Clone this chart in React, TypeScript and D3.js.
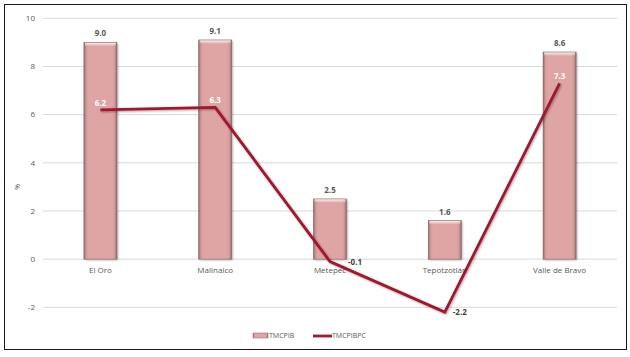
import React from "react";
import * as d3 from "d3";

const categories = ["El Oro", "Malinalco", "Metepec", "Tepotzotlán", "Valle de Bravo"];
const tmcpib = [9.0, 9.1, 2.5, 1.6, 8.6];
const tmcpibpc = [6.2, 6.3, -0.1, -2.2, 7.3];
const yTicks = [-2, 0, 2, 4, 6, 8, 10];
const seriesNames = ["TMCPIB", "TMCPIBPC"];

const W = 630, H = 357;
const left = 43, right = 617, top = 18.3, bottom = 307.3;
const font = "'Open Sans', 'Liberation Sans', Arial, sans-serif";

export default function App() {
  const x = d3.scaleBand<string>().domain(categories).range([left, right]).paddingInner(0).paddingOuter(0);
  const y = d3.scaleLinear().domain([-2, 10]).range([bottom, top]);
  const bw = 33;
  const line = d3.line<number>().x((_, i) => x(categories[i])! + x.bandwidth() / 2).y((d) => y(d));
  const lineColor = "#a3192e";
  return (
    <svg width={W} height={H} style={{ position: "absolute", left: 0, top: 0 }}>
      <defs>
        <linearGradient id="barH" x1="0" x2="1" y1="0" y2="0">
          <stop offset="0" stopColor="#8e6a6a" />
          <stop offset="0.07" stopColor="#d39a9a" />
          <stop offset="0.14" stopColor="#dfa4a4" />
          <stop offset="0.86" stopColor="#dfa4a4" />
          <stop offset="0.93" stopColor="#d39a9a" />
          <stop offset="1" stopColor="#8e6a6a" />
        </linearGradient>
        <linearGradient id="barTop" x1="0" x2="0" y1="0" y2="1">
          <stop offset="0" stopColor="#fff" stopOpacity="0.9" />
          <stop offset="1" stopColor="#fff" stopOpacity="0" />
        </linearGradient>
        <filter id="shadow" x="-20%" y="-20%" width="140%" height="140%">
          <feDropShadow dx="1" dy="1" stdDeviation="0.8" floodColor="#000" floodOpacity="0.35" />
        </filter>
      </defs>
      <rect x={0} y={0} width={W} height={H} fill="#fff" />
      <rect x={4.5} y={4.5} width={622} height={345} fill="#fff" stroke="#1a1a1a" strokeWidth={1} />
      {yTicks.map((t) => (
        <g key={t}>
          <line x1={left} x2={right} y1={y(t)} y2={y(t)} stroke="#d9d9d9" strokeWidth={1} />
          <text x={35} y={y(t)} dy="0.35em" textAnchor="end" fontFamily={font} fontSize={8} fill="#595959">
            {t}
          </text>
        </g>
      ))}
      <text transform={`translate(20,${(y(2) + y(4)) / 2}) rotate(-90)`} textAnchor="middle" fontFamily={font} fontSize={7} fill="#595959">
        %
      </text>
      {categories.map((c, i) => {
        const cx = x(c)! + x.bandwidth() / 2;
        const y0 = y(tmcpib[i]);
        const h = y(0) - y0;
        return (
          <g key={c}>
            <rect x={cx - bw / 2} y={y0} width={bw} height={h} fill="url(#barH)" filter="url(#shadow)" />
            <rect x={cx - bw / 2 + 1} y={y0} width={bw - 2} height={Math.min(4, h)} fill="url(#barTop)" />
            <rect x={cx - bw / 2} y={y0} width={bw} height={h} fill="none" stroke="#8a6565" strokeWidth={0.6} />
            <text x={cx} y={y0 - 6} textAnchor="middle" fontFamily={font} fontSize={8} fontWeight="bold" fill="#595959">
              {tmcpib[i].toFixed(1)}
            </text>
            <text x={cx} y={y(0) + 14} textAnchor="middle" fontFamily={font} fontSize={8} fill="#595959">
              {c}
            </text>
          </g>
        );
      })}
      <path d={line(tmcpibpc) ?? ""} fill="none" stroke={lineColor} strokeWidth={2.8} strokeLinejoin="miter" filter="url(#shadow)" />
      {tmcpibpc.map((v, i) => {
        const cx = x(categories[i])! + x.bandwidth() / 2;
        const inside = v > 0;
        const nearAxis = Math.abs(y(v) - y(0)) < 8;
        return (
          <text
            key={i}
            x={inside ? cx : cx + (nearAxis ? 18 : 8)}
            y={inside ? y(v) - 4 : y(v) + 3}
            textAnchor={inside ? "middle" : "start"}
            fontFamily={font}
            fontSize={8}
            fontWeight="bold"
            fill={inside ? "#ffffff" : "#404040"}
          >
            {v.toFixed(1)}
          </text>
        );
      })}
      <g>
        <rect x={253} y={333} width={15} height={5} fill="url(#barH)" stroke="#8a6565" strokeWidth={0.5} />
        <text x={269} y={336} dy="0.35em" fontFamily={font} fontSize={7} fill="#595959">
          {seriesNames[0]}
        </text>
        <line x1={313} x2={332} y1={336} y2={336} stroke={lineColor} strokeWidth={2.8} />
        <text x={332} y={336} dy="0.35em" fontFamily={font} fontSize={7} fill="#595959">
          {seriesNames[1]}
        </text>
      </g>
    </svg>
  );
}
